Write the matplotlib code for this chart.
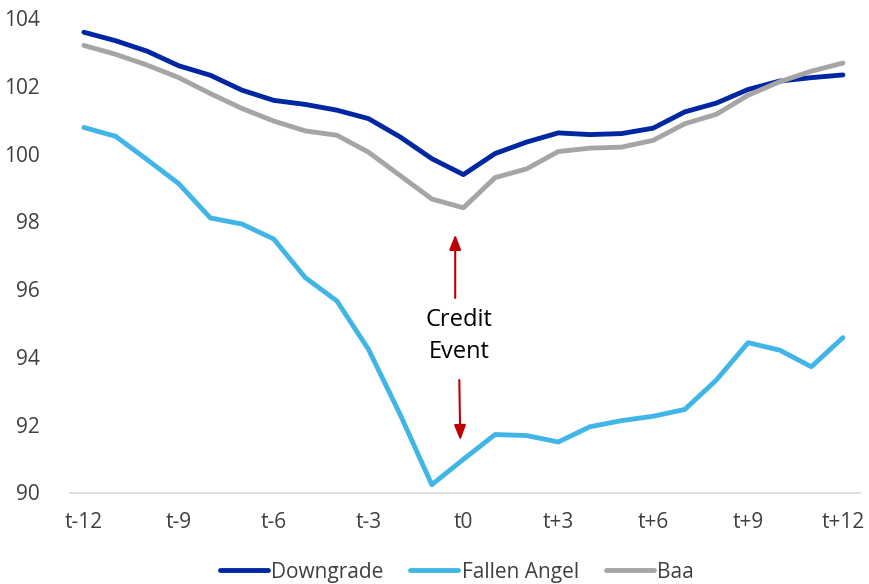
import matplotlib
matplotlib.use("Agg")
import matplotlib.pyplot as plt
import numpy as np

plt.rcParams['font.family'] = ['Open Sans', 'DejaVu Sans']

periods = list(range(-12, 13))
tick_positions = [-12, -9, -6, -3, 0, 3, 6, 9, 12]
tick_labels = ["t-12", "t-9", "t-6", "t-3", "t0", "t+3", "t+6", "t+9", "t+12"]

downgrade = [103.58, 103.33, 103.02, 102.59, 102.31, 101.87, 101.57, 101.45, 101.28,
             101.03, 100.49, 99.85, 99.38, 100.00, 100.34, 100.61, 100.56, 100.59,
             100.75, 101.23, 101.49, 101.89, 102.14, 102.24, 102.32]
fallen_angel = [100.77, 100.51, 99.82, 99.11, 98.10, 97.92, 97.48, 96.34, 95.65,
                94.22, 92.30, 90.23, 90.98, 91.71, 91.68, 91.49, 91.94, 92.12,
                92.25, 92.45, 93.32, 94.42, 94.20, 93.71, 94.57]
baa = [103.19, 102.93, 102.61, 102.24, 101.77, 101.33, 100.96, 100.67, 100.54,
       100.04, 99.35, 98.66, 98.40, 99.29, 99.55, 100.06, 100.16, 100.19,
       100.39, 100.88, 101.16, 101.72, 102.12, 102.43, 102.67]

fig = plt.figure(figsize=(8.7, 5.84), dpi=100)
ax = fig.add_axes([70/870, 1 - 492.5/584, 790/870, (492.5 - 18)/584])

ax.plot(periods, downgrade, color="#0027A2", lw=3.5, label="Downgrade", solid_capstyle="round")
ax.plot(periods, fallen_angel, color="#41B6E6", lw=3.5, label="Fallen Angel", solid_capstyle="round")
ax.plot(periods, baa, color="#A5A5A5", lw=3.5, label="Baa", solid_capstyle="round")

ax.set_xlim(-12.44, 12.54)
ax.set_ylim(90, 104)
ax.set_yticks([90, 92, 94, 96, 98, 100, 102, 104])
ax.set_xticks(tick_positions)
ax.set_xticklabels(tick_labels)

for s in ["top", "right", "left"]:
    ax.spines[s].set_visible(False)
ax.spines["bottom"].set_color("#D9D9D9")
ax.spines["bottom"].set_linewidth(1.2)
ax.tick_params(axis="both", length=0, labelsize=15, colors="#404040")
ax.tick_params(axis="y", pad=22)
ax.tick_params(axis="x", pad=14)

# Annotation
ax.text(-0.13, 94.62, "Credit\nEvent", ha="center", va="center", fontsize=17,
        color="#000000", linespacing=1.4)
ax.annotate("", xy=(-0.26, 97.61), xytext=(-0.26, 95.74),
            arrowprops=dict(arrowstyle="-|>,head_length=0.9,head_width=0.35",
                            color="#C00000", lw=1.5, shrinkA=0, shrinkB=0))
ax.annotate("", xy=(-0.10, 91.54), xytext=(-0.13, 93.32),
            arrowprops=dict(arrowstyle="-|>,head_length=0.9,head_width=0.35",
                            color="#C00000", lw=1.5, shrinkA=0, shrinkB=0))

leg = fig.legend(loc="lower center", bbox_to_anchor=(0.525, -0.03), ncol=3, frameon=False,
                 fontsize=15, handlelength=2.3, handletextpad=0.15, columnspacing=1.3)
for t in leg.get_texts():
    t.set_color("#404040")

fig.savefig("out.png", dpi=100)
